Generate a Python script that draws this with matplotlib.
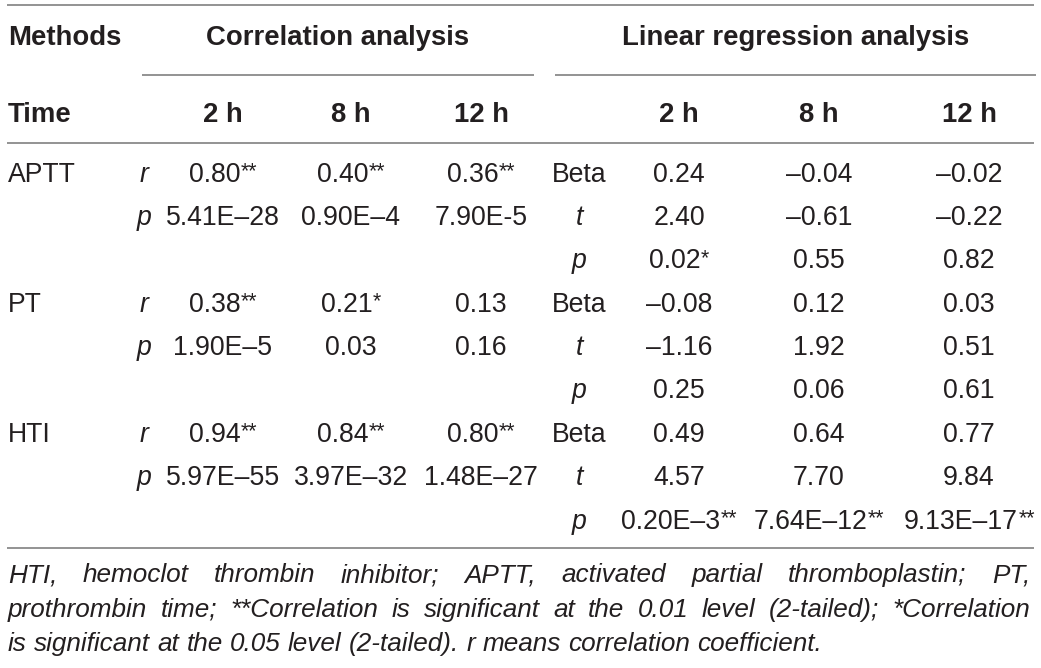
import matplotlib
matplotlib.use('Agg')
import matplotlib.pyplot as plt

# ---------------- data ----------------
header_methods = "Methods"
header_time = "Time"
section_titles = ["Correlation analysis", "Linear regression analysis"]
time_labels = ["2 h", "8 h", "12 h"]
group_labels = ["APTT", "PT", "HTI"]
corr_stat_labels = ["r", "p"]
reg_stat_labels = ["Beta", "t", "p"]

corr_r = [["0.80**", "0.40**", "0.36**"],
          ["0.38**", "0.21*", "0.13"],
          ["0.94**", "0.84**", "0.80**"]]
corr_p = [["5.41E–28", "0.90E–4", "7.90E-5"],
          ["1.90E–5", "0.03", "0.16"],
          ["5.97E–55", "3.97E–32", "1.48E–27"]]
reg_beta = [["0.24", "–0.04", "–0.02"],
            ["–0.08", "0.12", "0.03"],
            ["0.49", "0.64", "0.77"]]
reg_t = [["2.40", "–0.61", "–0.22"],
         ["–1.16", "1.92", "0.51"],
         ["4.57", "7.70", "9.84"]]
reg_p = [["0.02*", "0.55", "0.82"],
         ["0.25", "0.06", "0.61"],
         ["0.20E–3**", "7.64E–12**", "9.13E–17**"]]

footnote_lines = [
    "HTI, hemoclot thrombin inhibitor; APTT, activated partial thromboplastin; PT,",
    "prothrombin time; **Correlation is significant at the 0.01 level (2-tailed); *Correlation",
    "is significant at the 0.05 level (2-tailed). r means correlation coefficient.",
]

# ---------------- layout ----------------
W, H = 1041, 668
fig = plt.figure(figsize=(W / 100, H / 100), dpi=100)
ax = fig.add_axes([0, 0, 1, 1])
ax.set_xlim(0, W)
ax.set_ylim(H, 0)
ax.axis('off')
renderer = fig.canvas.get_renderer()

FONT = "Liberation Sans"
TXT = "#231f20"
LINE = "#808080"
BODY = 19.2
BOLD = 19.8
STAR = 15.5
FOOT = 18.8

x_label = 8
x_rp = 144
x_corr = [223, 351, 481]
x_reglab = 579
x_reg = [679, 819, 969]
row0 = 181.5
row_step = 43.4


def width_of(t):
    return t.get_window_extent(renderer=renderer).width


def put(x, y, s, size=BODY, weight='normal', style='normal', ha='center'):
    return ax.text(x, y, s, fontsize=size, fontweight=weight, fontstyle=style,
                   family=FONT, color=TXT, ha=ha, va='baseline')


def put_value(xc, y, s):
    stars = s[len(s.rstrip('*')):]
    num = s.rstrip('*')
    t1 = put(0, y, num, ha='left')
    t2 = put(0, y, stars, size=STAR, ha='left') if stars else None
    w1 = width_of(t1)
    w2 = width_of(t2) if t2 is not None else 0
    x0 = xc - (w1 + w2) / 2
    t1.set_x(x0)
    if t2 is not None:
        t2.set_x(x0 + w1 + 0.5)
        t2.set_y(y - 4.5)


def hline(y, x0, x1):
    ax.plot([x0, x1], [y, y], color=LINE, lw=1.2, solid_capstyle='butt')


# rules
hline(5, 7, 1034)
hline(75, 142, 534)
hline(75, 555, 1036)
hline(143, 7, 1034)
hline(548, 7, 1034)

# headers
put(x_label, 45, header_methods, size=BOLD, weight='bold', ha='left')
put((142 + 534) / 2, 45, section_titles[0], size=BOLD, weight='bold')
put((555 + 1036) / 2, 45, section_titles[1], size=BOLD, weight='bold')
put(x_label, 121.7, header_time, size=BOLD, weight='bold', ha='left')
for j, tl in enumerate(time_labels):
    put(x_corr[j], 121.7, tl, size=BOLD, weight='bold')
    put(x_reg[j], 121.7, tl, size=BOLD, weight='bold')

# body
for g, grp in enumerate(group_labels):
    base = row0 + 3 * g * row_step
    put(x_label, base, grp, ha='left')
    corr_vals = [corr_r[g], corr_p[g]]
    for k, lab in enumerate(corr_stat_labels):
        y = base + k * row_step
        put(x_rp, y, lab, style='italic')
        for j in range(3):
            put_value(x_corr[j], y, corr_vals[k][j])
    reg_vals = [reg_beta[g], reg_t[g], reg_p[g]]
    for k, lab in enumerate(reg_stat_labels):
        y = base + k * row_step
        put(x_reglab, y, lab, style='normal' if lab == "Beta" else 'italic')
        for j in range(3):
            put_value(x_reg[j], y, reg_vals[k][j])

# footnote (justified)
foot_base = [582, 617, 651]
left, right = 8, 1030


def space_width(size):
    sp = put(0, 0, 'a a', size=size, style='italic', ha='left')
    sa = put(0, 0, 'aa', size=size, style='italic', ha='left')
    w = width_of(sp) - width_of(sa)
    sp.remove()
    sa.remove()
    return w


# choose a size at which every justified line fits with at least a small gap
size = FOOT
while True:
    ok = True
    for line in footnote_lines[:-1]:
        words = line.split(' ')
        tmp = [put(0, 0, w, size=size, style='italic', ha='left') for w in words]
        total = sum(width_of(t) for t in tmp)
        for t in tmp:
            t.remove()
        if (right - left - total) / (len(words) - 1) < 0.45 * space_width(size):
            ok = False
    if ok or size <= 14:
        break
    size -= 0.2

for i, line in enumerate(footnote_lines):
    words = line.split(' ')
    texts = [put(0, foot_base[i], w, size=size, style='italic', ha='left') for w in words]
    widths = [width_of(t) for t in texts]
    if i < len(footnote_lines) - 1:
        gap = (right - left - sum(widths)) / (len(words) - 1)
    else:
        gap = space_width(size)
    x = left
    for t, w in zip(texts, widths):
        t.set_x(x)
        x += w + gap

fig.savefig("out.png", dpi=100)
